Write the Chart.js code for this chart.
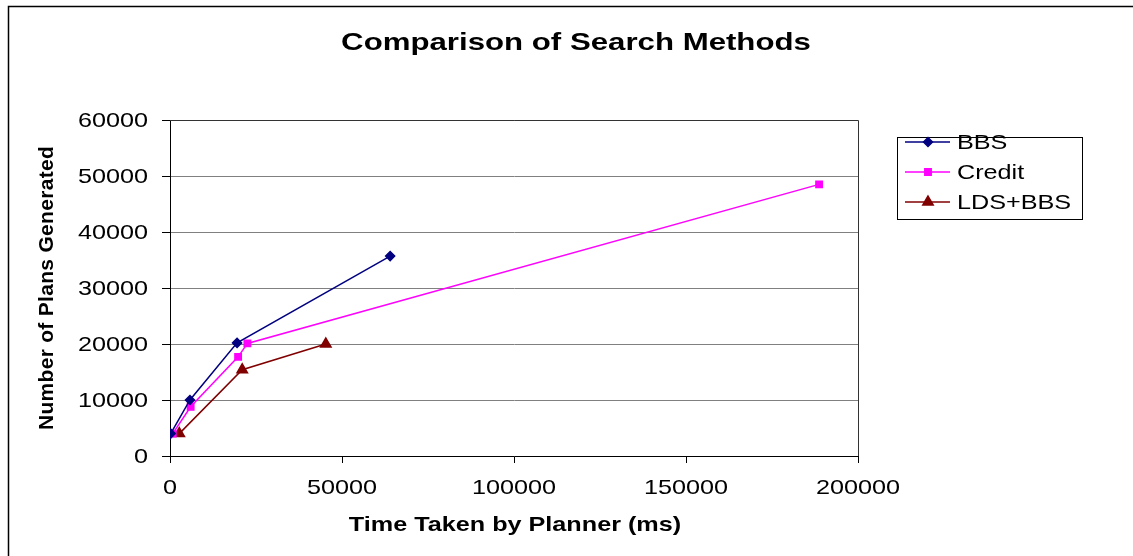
<!DOCTYPE html>
<html>
<head>
<meta charset="utf-8">
<script src="https://cdn.jsdelivr.net/npm/chart.js@4/dist/chart.umd.min.js"></script>
<style>
  html, body { margin: 0; padding: 0; background: #fff; }
  canvas { display: block; }
</style>
</head>
<body>
<canvas id="searchChart" width="1133" height="556"></canvas>
<script>
// values
const seriesNames = ["BBS", "Credit", "LDS+BBS"];
const bbsTime = [200, 5800, 19500, 64000];
const bbsPlans = [4000, 10000, 20200, 35700];
const creditTime = [800, 6000, 19800, 22500, 188700];
const creditPlans = [4000, 8800, 17700, 20100, 48500];
const ldsTime = [2700, 21000, 45300];
const ldsPlans = [4000, 15400, 20000];
const xTicks = [0, 50000, 100000, 150000, 200000];
const yTicks = [0, 10000, 20000, 30000, 40000, 50000, 60000];
const chartTitle = "Comparison of Search Methods";
const xTitle = "Time Taken by Planner (ms)";
const yTitle = "Number of Plans Generated";

const font = "'Liberation Sans', Arial, sans-serif";

function points(xs, ys) {
  return xs.map(function (x, i) { return { x: x, y: ys[i] }; });
}

// the source text is drawn horizontally stretched
function wideText(c, text, x, y, sx) {
  c.save();
  c.translate(x, y);
  c.scale(sx, 1);
  c.fillText(text, 0, 0);
  c.restore();
}

// frame, titles, stretched tick labels and legend box
const extras = {
  id: "extras",
  beforeDraw: function (chart) {
    const c = chart.ctx;
    c.save();
    c.fillStyle = "#fff";
    c.fillRect(0, 0, chart.width, chart.height);
    c.strokeStyle = "#000";
    c.lineWidth = 1.5;
    c.strokeRect(8.5, 6.5, 1300, 700);
    c.restore();
  },
  afterDraw: function (chart) {
    const c = chart.ctx;
    const a = chart.chartArea;
    const xs = chart.scales.x;
    const ys = chart.scales.y;
    c.save();
    c.strokeStyle = "#333";
    c.lineWidth = 1;
    c.beginPath();
    c.moveTo(a.left, a.top + 0.5);
    c.lineTo(a.right + 0.5, a.top + 0.5);
    c.lineTo(a.right + 0.5, a.bottom);
    c.stroke();

    c.fillStyle = "#000";
    c.textBaseline = "middle";

    // tick labels
    c.font = "21px " + font;
    c.textAlign = "right";
    yTicks.forEach(function (v) {
      wideText(c, String(v), a.left - 22, ys.getPixelForValue(v) + 1, 1.2);
    });
    c.textAlign = "center";
    xTicks.forEach(function (v) {
      wideText(c, String(v), xs.getPixelForValue(v), a.bottom + 32, 1.2);
    });

    c.font = "bold 24px " + font;
    wideText(c, chartTitle, 576, 43, 1.3);

    c.font = "bold 21px " + font;
    wideText(c, xTitle, (a.left + a.right) / 2 + 1, 525, 1.2);

    c.save();
    c.translate(47, (a.top + a.bottom) / 2);
    c.rotate(-Math.PI / 2);
    c.letterSpacing = "0.3px";
    c.fillText(yTitle, 0, 0);
    c.restore();

    // legend
    c.strokeStyle = "#000";
    c.lineWidth = 1;
    c.strokeRect(897.5, 137.5, 185, 82);
    c.font = "21px " + font;
    c.textAlign = "left";
    chart.data.datasets.forEach(function (ds, i) {
      const y = 142 + i * 30;
      c.strokeStyle = ds.borderColor;
      c.lineWidth = 1.5;
      c.beginPath();
      c.moveTo(905, y);
      c.lineTo(950, y);
      c.stroke();
      c.fillStyle = ds.backgroundColor;
      Chart.helpers.drawPoint(c, {
        pointStyle: ds.pointStyle,
        radius: ds.pointRadius,
        borderWidth: 1
      }, 928, y);
      c.fillStyle = "#000";
      wideText(c, ds.label, 957, y + 1, 1.2);
    });
    c.restore();
  }
};

function makeSet(label, xs, ys, color, style, r) {
  return {
    label: label,
    data: points(xs, ys),
    borderColor: color,
    backgroundColor: color,
    borderWidth: 1.5,
    pointStyle: style,
    pointRadius: r,
    pointHoverRadius: r,
    showLine: true,
    tension: 0
  };
}

new Chart(document.getElementById("searchChart").getContext("2d"), {
  type: "scatter",
  data: {
    datasets: [
      makeSet(seriesNames[0], bbsTime, bbsPlans, "#000080", "rectRot", 4.5),
      makeSet(seriesNames[1], creditTime, creditPlans, "#ff00ff", "rect", 4.5),
      makeSet(seriesNames[2], ldsTime, ldsPlans, "#800000", "triangle", 6)
    ]
  },
  options: {
    responsive: false,
    animation: false,
    layout: { padding: { left: 37, top: 120, right: 275, bottom: 20 } },
    plugins: {
      legend: { display: false },
      title: { display: false },
      tooltip: { enabled: false }
    },
    scales: {
      x: {
        type: "linear",
        min: 0,
        max: 200000,
        afterBuildTicks: function (s) { s.ticks = xTicks.map(function (v) { return { value: v }; }); },
        afterFit: function (s) { s.height = 80; },
        grid: { drawOnChartArea: false, tickLength: 7, color: "#000" },
        border: { color: "#000", width: 1 },
        ticks: { display: false },
        title: { display: false }
      },
      y: {
        type: "linear",
        min: 0,
        max: 60000,
        afterBuildTicks: function (s) { s.ticks = yTicks.map(function (v) { return { value: v }; }); },
        afterFit: function (s) { s.width = 133; },
        grid: { color: "#808080", tickLength: 8, tickColor: "#000" },
        border: { color: "#000", width: 1 },
        ticks: { display: false },
        title: { display: false }
      }
    }
  },
  plugins: [extras]
});
</script>
</body>
</html>
